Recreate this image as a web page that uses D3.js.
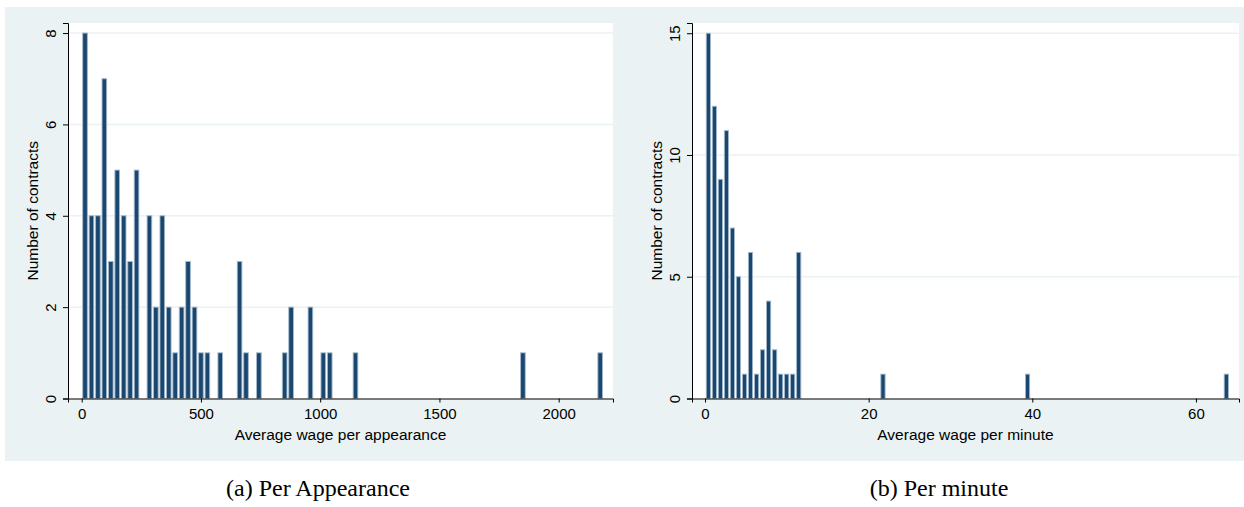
<!DOCTYPE html>
<html>
<head>
<meta charset="utf-8">
<script src="https://cdn.jsdelivr.net/npm/d3@7"></script>
<style>
  html, body { margin: 0; padding: 0; background: #fff; }
  svg text { font-family: "Liberation Sans", Arial, Helvetica, sans-serif; fill: #000; }
  .caption { font-family: "Liberation Serif", "Times New Roman", serif; }
</style>
</head>
<body>
<div id="chart"></div>
<script>
// (a) per appearance: bin midpoints and counts
const apprBins = [14, 41, 68, 95, 122, 149, 176, 203, 230,
                  284, 311, 338, 365, 392, 419, 446, 473, 500, 527,
                  581, 662, 689, 743, 851, 878, 959, 1013, 1040, 1148,
                  1850, 2174];
const apprCounts = [8, 4, 4, 7, 3, 5, 4, 3, 5,
                    4, 2, 4, 2, 1, 2, 3, 2, 1, 1,
                    1, 3, 1, 1, 1, 2, 2, 1, 1, 1,
                    1, 1];
const apprBinWidth = 27;
const apprXTicks = [0, 500, 1000, 1500, 2000];
const apprYTicks = [0, 2, 4, 6, 8];

// (b) per minute
const minuteBins = [0.41, 1.15, 1.88, 2.62, 3.35, 4.09, 4.83, 5.56, 6.30, 7.03,
                    7.77, 8.51, 9.24, 9.98, 10.71, 11.45, 21.75, 39.42, 63.71];
const minuteCounts = [15, 12, 9, 11, 7, 5, 1, 6, 1, 2,
                      4, 2, 1, 1, 1, 6, 1, 1, 1];
const minuteBinWidth = 0.736;
const minuteXTicks = [0, 20, 40, 60];
const minuteYTicks = [0, 5, 10, 15];

const W = 1244, H = 507;
const BG = '#eaf2f3', NAVY = '#1a476f';
const FONT = '"Liberation Sans", Arial, Helvetica, sans-serif';

const svg = d3.select('#chart').append('svg')
    .attr('width', W)
    .attr('height', H);

svg.append('rect')
    .attr('x', 5).attr('y', 7)
    .attr('width', W - 5).attr('height', 454)
    .attr('fill', BG);

function drawPanel(p) {
    const x = d3.scaleLinear().domain(p.xDomain).range([p.left, p.right]);
    const y = d3.scaleLinear().domain(p.yDomain).range([p.bottom, p.top]);

    const g = svg.append('g');

    g.append('rect')
        .attr('x', p.left).attr('y', p.top)
        .attr('width', p.right - p.left).attr('height', p.bottom - p.top)
        .attr('fill', '#fff');

    // grid
    g.append('g').selectAll('line')
        .data(p.yTicks.filter(d => d > 0)).enter()
        .append('line')
        .attr('x1', p.left).attr('x2', p.right)
        .attr('y1', d => y(d)).attr('y2', d => y(d))
        .attr('stroke', BG)
        .attr('stroke-width', 1.5);

    // bars
    const pxW = x(p.binWidth) - x(0);
    g.append('g').selectAll('rect')
        .data(p.bins.map((b, i) => ({b: b, n: p.counts[i]}))).enter()
        .append('rect')
        .attr('x', d => x(d.b) - pxW / 2 + 0.9)
        .attr('y', d => y(d.n))
        .attr('width', pxW - 1.8)
        .attr('height', d => y(0) - y(d.n))
        .attr('fill', NAVY)
        .attr('stroke', '#a3b8cb')
        .attr('stroke-width', 0.9);

    // axes
    const xAxis = d3.axisBottom(x).tickValues(p.xTicks).tickFormat(d3.format('d'))
        .tickSizeOuter(0).tickSize(4).tickPadding(6);
    g.append('g')
        .attr('transform', 'translate(0,' + p.bottom + ')')
        .call(xAxis)
        .attr('font-size', 15)
        .attr('font-family', FONT);

    const yAxis = d3.axisLeft(y).tickValues(p.yTicks).tickFormat(d3.format('d'))
        .tickSizeOuter(0).tickSize(5);
    const gy = g.append('g')
        .attr('transform', 'translate(' + p.left + ',0)')
        .call(yAxis)
        .attr('font-size', 15)
        .attr('font-family', FONT);
    gy.selectAll('text')
        .attr('transform', 'rotate(-90)')
        .attr('x', 0).attr('y', -12).attr('dy', 0)
        .attr('text-anchor', 'middle');
    g.selectAll('.domain, .tick line').attr('stroke', '#000').attr('stroke-width', 1);

    g.append('text')
        .attr('x', (p.left + p.right) / 2)
        .attr('y', 439.5)
        .attr('text-anchor', 'middle')
        .style('font-size', '15.5px')
        .text(p.xTitle);

    g.append('text')
        .attr('transform', 'translate(' + p.yTitleX + ',' + ((p.top + p.bottom) / 2) + ') rotate(-90)')
        .attr('text-anchor', 'middle')
        .style('font-size', '15.5px')
        .text('Number of contracts');

    svg.append('text')
        .attr('class', 'caption')
        .attr('x', p.capX)
        .attr('y', 496)
        .attr('text-anchor', 'middle')
        .style('font-size', '24px')
        .text(p.caption);
}

drawPanel({
    left: 68, right: 613, top: 23, bottom: 398.5,
    xDomain: [-57.4, 2227.7], yDomain: [0, 8.22],
    bins: apprBins, counts: apprCounts, binWidth: apprBinWidth,
    xTicks: apprXTicks, yTicks: apprYTicks,
    xTitle: 'Average wage per appearance', yTitleX: 38,
    caption: '(a) Per Appearance', capX: 318
});

drawPanel({
    left: 692, right: 1239, top: 23, bottom: 398.5,
    xDomain: [-1.59, 65.26], yDomain: [0, 15.42],
    bins: minuteBins, counts: minuteCounts, binWidth: minuteBinWidth,
    xTicks: minuteXTicks, yTicks: minuteYTicks,
    xTitle: 'Average wage per minute', yTitleX: 662,
    caption: '(b) Per minute', capX: 939
});
</script>
</body>
</html>
